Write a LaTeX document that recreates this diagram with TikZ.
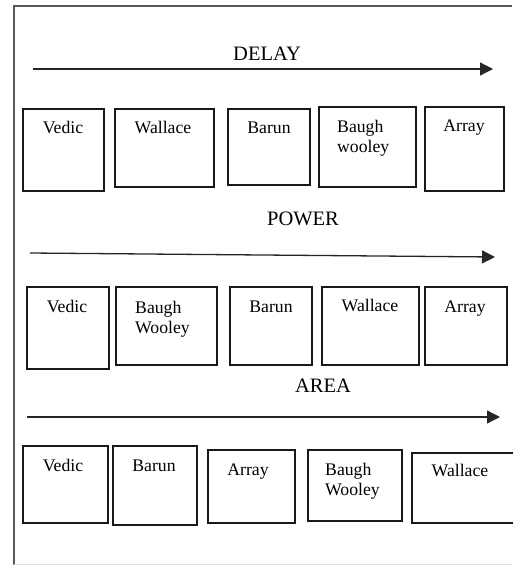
\documentclass[tikz,border=0pt]{standalone}
\usepackage{fontspec}
\setmainfont{Liberation Serif}
\usetikzlibrary{arrows.meta}
\usetikzlibrary{positioning}

\tikzset{
	blk/.style={draw=black!90,line width=1.6pt,inner sep=0pt,outer sep=0pt},
	lbl/.style={inner sep=0pt,anchor=base,font=\fontsize{17.7}{20}\selectfont},
	lbltwo/.style={inner sep=0pt,anchor=base west,align=left,font=\fontsize{17.7}{20}\selectfont},
	hdr/.style={inner sep=0pt,anchor=base,font=\fontsize{20.5}{24}\selectfont},
	axis/.style={line width=1.3pt,black!85,-{Triangle[length=13pt,width=13pt]}}
}

\begin{document}
\begin{tikzpicture}[x=1pt,y=-1pt]
	 \useasboundingbox (0,0) rectangle (512,565);
	 %frame
	 \draw[line width=1.5pt,black!65] (512,6) -- (14,6) -- (14,565);
	 \draw[line width=0.6pt,black!12] (14,564.5) -- (512,564.5);
	 %
	 %DELAY
	 \node[hdr] (delay) at (267,60) {DELAY};
	 \coordinate (dS) at (33,69);
	 \coordinate (dE) at (493,69);
	 \draw[axis] (dS) -- (dE);
	 %
	 \node[blk,minimum width=81,minimum height=82] (dVedic) at (63.5,150) {};
	 \node[blk,minimum width=99,minimum height=78] (dWallace) at (164.5,148) {};
	 \node[blk,minimum width=82,minimum height=76] (dBarun) at (269,147) {};
	 \node[blk,minimum width=97,minimum height=80] (dBaugh) at (367.5,147) {};
	 \node[blk,minimum width=79,minimum height=84] (dArray) at (464.5,149) {};
	 %
	 \node[lbl] (dVedicT) at (63,133) {Vedic};
	 \node[lbl] (dWallaceT) at (163,133) {Wallace};
	 \node[lbl] (dBarunT) at (269,133) {Barun};
	 \node[lbltwo] (dBaughT) at (337,152) {Baugh\\wooley};
	 \node[lbl] (dArrayT) at (464,131) {Array};
	 %
	 %POWER
	 \node[hdr] (power) at (303,225) {POWER};
	 \coordinate (pS) at (30,253);
	 \coordinate (pE) at (495,257);
	 \draw[axis] (pS) -- (pE);
	 %
	 \node[blk,minimum width=82,minimum height=82] (pVedic) at (68,328) {};
	 \node[blk,minimum width=101,minimum height=78] (pBaugh) at (166.5,326) {};
	 \node[blk,minimum width=82,minimum height=78] (pBarun) at (271,326) {};
	 \node[blk,minimum width=97,minimum height=78] (pWallace) at (370.5,326) {};
	 \node[blk,minimum width=82,minimum height=78] (pArray) at (466,326) {};
	 %
	 \node[lbl] (pVedicT) at (67,312) {Vedic};
	 \node[lbltwo] (pBaughT) at (135,333) {Baugh\\Wooley};
	 \node[lbl] (pBarunT) at (271,312) {Barun};
	 \node[lbl] (pWallaceT) at (370,311) {Wallace};
	 \node[lbl] (pArrayT) at (465,312) {Array};
	 %
	 %AREA
	 \node[hdr] (area) at (323,392) {AREA};
	 \coordinate (aS) at (27,417);
	 \coordinate (aE) at (500,417);
	 \draw[axis] (aS) -- (aE);
	 %
	 \node[blk,minimum width=85,minimum height=77] (aVedic) at (65.5,484.5) {};
	 \node[blk,minimum width=84,minimum height=79] (aBarun) at (155,485.5) {};
	 \node[blk,minimum width=87,minimum height=73] (aArray) at (251.5,486.5) {};
	 \node[blk,minimum width=94,minimum height=71] (aBaugh) at (355,485.5) {};
	 \node[blk,minimum width=104,minimum height=70] (aWallace) at (464,488) {};
	 %
	 \node[lbl] (aVedicT) at (63,471) {Vedic};
	 \node[lbl] (aBarunT) at (154,471) {Barun};
	 \node[lbl] (aArrayT) at (248,475) {Array};
	 \node[lbltwo] (aBaughT) at (325,495) {Baugh\\Wooley};
	 \node[lbl] (aWallaceT) at (460,476) {Wallace};
\end{tikzpicture}
\end{document}
